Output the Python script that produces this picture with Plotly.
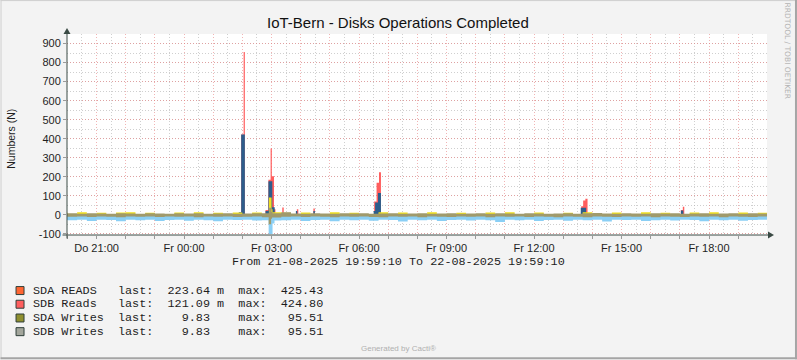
import plotly.graph_objects as go
import pandas as pd

# ---------------- data ----------------
x_start = "2025-08-21 19:59:10"
x_end = "2025-08-22 19:59:10"

# baseline series, 20-minute samples starting at 19:40
base_start = "2025-08-21 19:40"
light_blue = [-26, -28, -26, -32, -26, -27, -33, -26, -28, -26,
              -32, -27, -26, -31, -26, -28, -33, -26, -27, -26,
              -30, -28, -30, -29, -26, -32, -27, -26, -34, -26,
              -28, -26, -31, -26, -27, -35, -26, -28, -26, -32,
              -27, -26, -30, -26, -29, -37, -26, -28, -26, -32,
              -27, -26, -31, -26, -28, -26, -35, -26, -27, -26,
              -32, -28, -26, -30, -26, -27, -33, -26, -28, -26,
              -31, -27, -26, -28]
yellow = [12, 4, 13, 5, 11, 4, 12, 13, 4, 11,
          5, 4, 12, 4, 13, 4, 11, 5, 12, 4,
          12, 4, 14, 11, 4, 12, 4, 5, 13, 4,
          11, 4, 4, 14, 4, 12, 5, 4, 13, 4,
          4, 11, 4, 5, 12, 4, 13, 4, 4, 12,
          4, 5, 11, 4, 13, 5, 4, 12, 4, 4,
          13, 4, 11, 4, 5, 12, 4, 13, 4, 4,
          12, 4, 11, 5]
olive_top = [7, 8, 6, 9, 7, 6, 8, 7, 6, 8,
             7, 6, 9, 7, 8, 6, 7, 8, 6, 7,
             9, 8, 9, 14, 7, 6, 8, 7, 6, 9,
             7, 8, 6, 7, 8, 6, 7, 9, 6, 7,
             8, 6, 7, 8, 6, 9, 7, 6, 8, 7,
             6, 7, 9, 6, 8, 10, 7, 6, 8, 7,
             6, 9, 7, 8, 6, 7, 8, 6, 7, 9,
             6, 8, 7, 7]
olive_bottom = [-9, -10, -9, -11, -9, -10, -12, -9, -10, -9,
                -11, -9, -10, -9, -12, -9, -10, -9, -11, -10,
                -9, -12, -14, -10, -9, -11, -9, -10, -12, -9,
                -10, -9, -11, -13, -9, -10, -9, -12, -9, -10,
                -11, -9, -10, -9, -12, -9, -10, -9, -11, -9,
                -10, -12, -9, -10, -13, -9, -10, -11, -9, -10,
                -9, -12, -9, -10, -11, -9, -10, -9, -12, -9,
                -10, -11, -9, -10]

day2 = "2025-08-22 "
red_times = ["01:50", "01:57:30", "02:02:30", "02:05",
             "02:45", "02:47:30", "02:53:30", "02:58", "03:00:30", "03:05", "03:08",
             "03:20", "03:22", "03:25",
             "03:50", "03:52", "03:55",
             "04:24", "04:26", "04:29",
             "06:28", "06:31", "06:36", "06:41", "06:45",
             "13:34", "13:37", "13:41", "13:45:30", "13:50",
             "17:00", "17:02", "17:06", "17:09"]
red_values = [0, 422, 856, 0,
              0, 25, 185, 349, 203, 30, 0,
              0, 38, 0,
              0, 30, 0,
              0, 33, 0,
              0, 70, 168, 224, 0,
              0, 45, 75, 84, 0,
              0, 25, 42, 0]
blue_times = ["01:50", "01:52:30", "01:57:30", "02:05",
              "02:45", "02:47:30", "02:53:30", "03:01:30", "03:06:30",
              "03:48", "03:50", "03:53",
              "04:24", "04:26", "04:29",
              "06:28", "06:30", "06:33", "06:39", "06:45",
              "13:34", "13:36", "13:47", "13:50",
              "17:00", "17:02", "17:07"]
blue_values = [0, 14, 422, 0,
               0, 20, 177, 40, 0,
               0, 20, 0,
               0, 20, 0,
               0, 20, 65, 115, 0,
               0, 37, 10, 0,
               0, 23, 0]
lb_dip_times = ["02:48", "02:54", "03:02", "03:06", "03:10"]
lb_dip_values = [-26, -100, -45, -26, -26]
yellow_spike_times = ["02:50", "02:54:30", "03:00", "03:02"]
yellow_spike_values = [0, 91, 30, 0]
olive_up_times = ["02:50", "02:55", "03:00", "03:02"]
olive_up_values = [0, 37, 15, 0]
olive_dn_times = ["02:50", "02:54", "02:59", "03:01"]
olive_dn_values = [0, -50, -20, 0]

tick_times = ["2025-08-21 21:00", "2025-08-22 00:00", "2025-08-22 03:00", "2025-08-22 06:00",
              "2025-08-22 09:00", "2025-08-22 12:00", "2025-08-22 15:00", "2025-08-22 18:00"]
tick_labels = ["Do 21:00", "Fr 00:00", "Fr 03:00", "Fr 06:00",
               "Fr 09:00", "Fr 12:00", "Fr 15:00", "Fr 18:00"]
y_ticks = [-100, 0, 100, 200, 300, 400, 500, 600, 700, 800, 900]

legend_names = ["SDA READS", "SDB Reads", "SDA Writes", "SDB Writes"]
legend_last = [223.64, 121.09, 9.83, 9.83]
legend_last_unit = ["m", "m", "", ""]
legend_max = [425.43, 424.80, 95.51, 95.51]
legend_colors = ["#FF6633", "#FF5F5F", "#8F8F2F", "#A3A69C"]

# ---------------- styling ----------------
W_PX, H_PX = 797, 360
L, R, T, B = 66.5, 767.0, 34.0, 235.5
Y_MIN, Y_MAX = -105.9, 950.2

LB = "#8ACFF5"
RED = "#FF5E5E"
BLUE = "#2D5E8C"
YEL = "#F0E020"
OLV = "#A09A6C"
MAJ = "rgba(232,130,130,0.6)"
MIN = "rgba(175,175,175,0.6)"
AXC = "#3A4A44"


def px_x(x):
    return (x - L) / (R - L)


def px_y(y):
    return (B - y) / (B - T)


def area(x, y, color, fill="tozeroy"):
    return go.Scatter(x=x, y=y, mode="lines",
                      line=dict(width=0, shape="hv", color=color),
                      fill=fill, fillcolor=color,
                      showlegend=False, hoverinfo="skip")


base_times = pd.date_range(base_start, periods=len(light_blue), freq="20min")
d2 = lambda lst: [day2 + t for t in lst]

fig = go.Figure()
fig.add_trace(area(base_times, light_blue, LB))
fig.add_trace(area(d2(lb_dip_times), lb_dip_values, LB))
fig.add_trace(area(d2(red_times), red_values, RED))
fig.add_trace(area(d2(blue_times), blue_values, BLUE))
fig.add_trace(area(base_times, yellow, YEL))
fig.add_trace(area(d2(yellow_spike_times), yellow_spike_values, YEL))
fig.add_trace(area(d2(olive_up_times), olive_up_values, OLV))
fig.add_trace(area(d2(olive_dn_times), olive_dn_values, OLV))
fig.add_trace(go.Scatter(x=base_times, y=olive_bottom, mode="lines",
                         line=dict(width=0, shape="hv", color=OLV),
                         showlegend=False, hoverinfo="skip"))
fig.add_trace(area(base_times, olive_top, OLV, fill="tonexty"))

hourly = pd.date_range("2025-08-21 20:00", "2025-08-22 19:00", freq="h")
half = pd.date_range("2025-08-21 20:30", "2025-08-22 19:30", freq="h")
label_map = {pd.Timestamp(t): lab for t, lab in zip(tick_times, tick_labels)}
hour_text = [label_map.get(t, "") for t in hourly]

tickfont = dict(family="Liberation Sans, Arial, sans-serif", size=11, color="#1E1E1E")

fig.update_xaxes(type="date", range=[x_start, x_end],
                 tickmode="array", tickvals=list(hourly), ticktext=hour_text,
                 showgrid=True, gridcolor=MAJ, gridwidth=1, griddash="1px,2px",
                 zeroline=False, showline=False,
                 ticks="outside", ticklen=3, tickcolor="#9A9A9A",
                 tickfont=tickfont,
                 minor=dict(tickmode="array", tickvals=list(half), showgrid=True,
                            gridcolor=MIN, griddash="1px,2px", ticks=""))
fig.update_yaxes(range=[Y_MIN, Y_MAX],
                 tickmode="array", tickvals=y_ticks, ticktext=[str(v) for v in y_ticks],
                 showgrid=True, gridcolor=MAJ, gridwidth=1, griddash="1px,2px",
                 zeroline=False, showline=False,
                 ticks="outside", ticklen=3, tickcolor="#9A9A9A",
                 tickfont=tickfont,
                 minor=dict(dtick=50, tick0=0, showgrid=True,
                            gridcolor=MIN, griddash="1px,2px", ticks=""))

shapes = []
# outer frame
shapes.append(dict(type="line", xref="paper", yref="paper", x0=px_x(0), x1=px_x(797), y0=px_y(0.5), y1=px_y(0.5),
                   line=dict(color="#CFCFCF", width=1)))
shapes.append(dict(type="line", xref="paper", yref="paper", x0=px_x(0.5), x1=px_x(0.5), y0=px_y(0), y1=px_y(360),
                   line=dict(color="#CFCFCF", width=1)))
shapes.append(dict(type="line", xref="paper", yref="paper", x0=px_x(796), x1=px_x(796), y0=px_y(0), y1=px_y(360),
                   line=dict(color="#A5A5A5", width=2)))
shapes.append(dict(type="line", xref="paper", yref="paper", x0=px_x(0), x1=px_x(797), y0=px_y(359), y1=px_y(359),
                   line=dict(color="#A5A5A5", width=2)))
# axes with arrows
shapes.append(dict(type="line", xref="paper", yref="paper", x0=px_x(62), x1=px_x(769), y0=0, y1=0,
                   line=dict(color=AXC, width=1)))
shapes.append(dict(type="line", xref="paper", yref="paper", x0=0, x1=0, y0=px_y(239), y1=px_y(31),
                   line=dict(color=AXC, width=1)))
shapes.append(dict(type="path", xref="paper", yref="paper",
                   path=f"M {px_x(768)} {px_y(B-3.5)} L {px_x(774)} {px_y(B)} L {px_x(768)} {px_y(B+3.5)} Z",
                   fillcolor=AXC, line=dict(color=AXC, width=0)))
shapes.append(dict(type="path", xref="paper", yref="paper",
                   path=f"M {px_x(L-3.5)} {px_y(34)} L {px_x(L)} {px_y(28)} L {px_x(L+3.5)} {px_y(34)} Z",
                   fillcolor=AXC, line=dict(color=AXC, width=0)))

# legend boxes
row_y = [291.2, 304.9, 318.7, 332.4]
for c, yy in zip(legend_colors, row_y):
    shapes.append(dict(type="rect", xref="paper", yref="paper",
                       x0=px_x(15.5), x1=px_x(23.5), y0=px_y(yy - 4), y1=px_y(yy + 4),
                       fillcolor=c, line=dict(color="#2F3F3A", width=1)))

annotations = []
annotations.append(dict(text="IoT-Bern - Disks Operations Completed", xref="paper", yref="paper",
                        x=px_x(398), y=px_y(22.5), xanchor="center", yanchor="middle", showarrow=False,
                        font=dict(family="Liberation Sans, Arial, sans-serif", size=15, color="#111111")))
annotations.append(dict(text="Numbers (N)", xref="paper", yref="paper",
                        x=px_x(11), y=px_y(139.5), xanchor="center", yanchor="middle", showarrow=False,
                        textangle=-90,
                        font=dict(family="Liberation Sans, Arial, sans-serif", size=10.5, color="#1E1E1E")))
annotations.append(dict(text="RRDTOOL / TOBI OETIKER", xref="paper", yref="paper",
                        x=px_x(787.5), y=px_y(51), xanchor="center", yanchor="middle", showarrow=False,
                        textangle=90,
                        font=dict(family="DejaVu Sans, sans-serif", size=7.5, color="#B4B4B4")))
annotations.append(dict(text="From 21-08-2025 19:59:10 To 22-08-2025 19:59:10".replace(" ", "\u00a0"),
                        xref="paper", yref="paper",
                        x=px_x(398), y=px_y(263), xanchor="center", yanchor="middle", showarrow=False,
                        font=dict(family="Liberation Mono, Courier New, monospace", size=11.8, color="#1E1E1E")))
annotations.append(dict(text="Generated by Cacti®", xref="paper", yref="paper",
                        x=px_x(398), y=px_y(349), xanchor="center", yanchor="middle", showarrow=False,
                        font=dict(family="Liberation Sans, Arial, sans-serif", size=8, color="#B0B0B0")))
for name, last, unit, mx, yy in zip(legend_names, legend_last, legend_last_unit, legend_max, row_y):
    line = f"{name:<12}last:  {last:>6.2f} {unit:<1}  max:  {mx:>6.2f}"
    annotations.append(dict(text=line.replace(" ", "\u00a0"), xref="paper", yref="paper",
                            x=px_x(30.3), y=px_y(yy), xanchor="left", yanchor="middle", showarrow=False,
                            font=dict(family="Liberation Mono, Courier New, monospace", size=11.8,
                                      color="#1E1E1E")))

fig.update_layout(width=W_PX, height=H_PX, autosize=False,
                  margin=dict(l=L, r=W_PX - R, t=T, b=H_PX - B, pad=0),
                  paper_bgcolor="#F3F3F3", plot_bgcolor="#FFFFFF",
                  shapes=shapes, annotations=annotations, showlegend=False)

fig.write_html("out.html")
